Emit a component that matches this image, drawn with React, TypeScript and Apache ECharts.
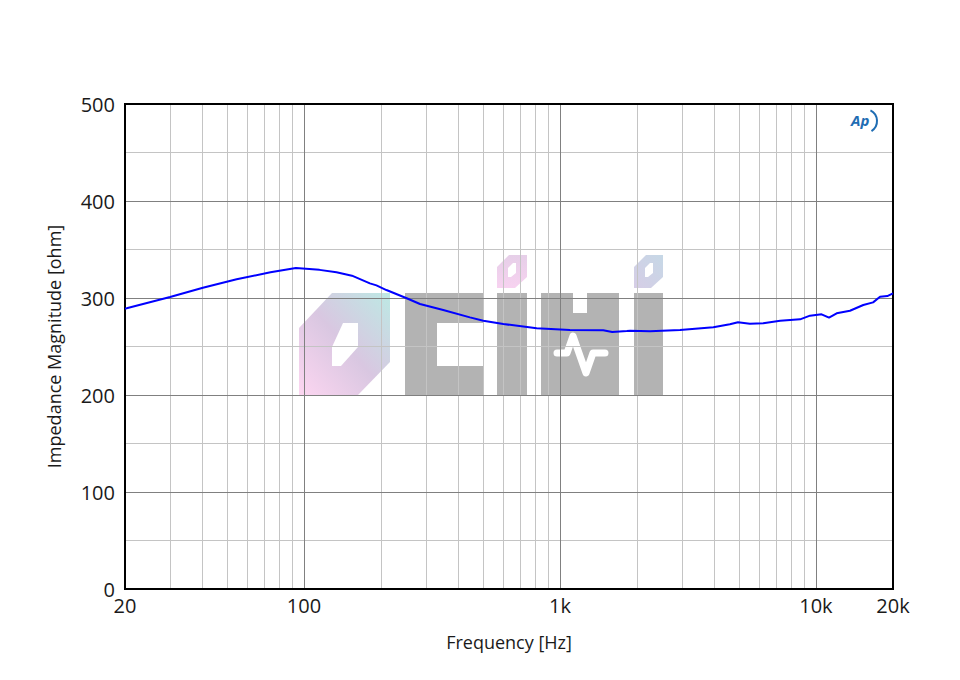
import React, { useEffect, useRef } from "react";
import * as echarts from "echarts";

const freqs = [20, 20.3, 30, 40.3, 54.6, 74, 93, 115, 134, 154, 181, 192, 210, 252, 284, 350, 445, 502, 601, 811, 1094, 1476, 1600, 1825, 1880, 2250, 2945, 3974, 4611, 4960, 5520, 6227, 7250, 8670, 9480, 10520, 11250, 12050, 13580, 15310, 16720, 17800, 19000, 20000];
const impedance = [289, 289.4, 301, 310.6, 319.3, 326.5, 331, 329, 326.5, 323, 315.1, 313, 308.2, 299.7, 293.8, 287.6, 280, 276.6, 273.2, 268.7, 267, 266.7, 265, 266, 266.3, 265.6, 267, 269.8, 272.9, 274.9, 273.5, 273.9, 276.6, 278, 281.8, 283.2, 279.7, 284.2, 286.9, 292.8, 295.5, 301.3, 302, 304.8];
const majorFreqs = [100, 1000, 10000];
const minorFreqs = [30, 40, 50, 60, 70, 80, 90, 200, 300, 400, 500, 600, 700, 800, 900, 2000, 3000, 4000, 5000, 6000, 7000, 8000, 9000];
const majorOhms = [100, 200, 300, 400];
const minorOhms = [50, 150, 250, 350, 450];
const xLabels: Record<number, string> = { 20: "20", 100: "100", 1000: "1k", 10000: "10k", 20000: "20k" };

const FONT = "Open Sans";
const TXT = "#1a1a1a";

export default function App() {
  const bgRef = useRef<HTMLDivElement>(null);
  const ref = useRef<HTMLDivElement>(null);
  useEffect(() => {
    if (!ref.current || !bgRef.current) return;
    const bg = echarts.init(bgRef.current, null, { renderer: "svg" });
    const chart = echarts.init(ref.current, null, { renderer: "svg" });
    const gray = "#b3b3b3";
    const hexGrad = new echarts.graphic.LinearGradient(0, 1, 1, 0, [
      { offset: 0, color: "#fdd6f1" },
      { offset: 0.5, color: "#d9c7e1" },
      { offset: 1, color: "#bde9e4" },
    ]);
    const dot1Grad = new echarts.graphic.LinearGradient(0, 0, 0, 1, [
      { offset: 0, color: "#e6cfe8" },
      { offset: 1, color: "#f7d2f0" },
    ]);
    const dot2Grad = new echarts.graphic.LinearGradient(1, 0, 0, 1, [
      { offset: 0, color: "#c6d8e6" },
      { offset: 1, color: "#d6cde6" },
    ]);
    const wmEls = [
      { type: "polygon", shape: { points: [[299, 328], [332, 293], [390, 293], [390, 362], [357, 396], [299, 396]] }, style: { fill: hexGrad } },
      { type: "polygon", shape: { points: [[332, 347], [343, 323], [358, 323], [358, 347], [341, 366], [332, 366]] }, style: { fill: "#fff" } },
      { type: "rect", shape: { x: 405, y: 293, width: 78, height: 103 }, style: { fill: gray } },
      { type: "rect", shape: { x: 437, y: 323, width: 46, height: 43 }, style: { fill: "#fff" } },
      { type: "rect", shape: { x: 497, y: 293, width: 30, height: 103 }, style: { fill: gray } },
      { type: "polygon", shape: { points: [[497, 267], [509, 255], [527, 255], [527, 277], [515, 288], [497, 288]] }, style: { fill: dot1Grad } },
      { type: "polygon", shape: { points: [[508, 268], [513, 263], [516, 263], [516, 273], [511, 277], [508, 277]] }, style: { fill: "#fff" } },
      { type: "rect", shape: { x: 541, y: 293, width: 78, height: 103 }, style: { fill: gray } },
      { type: "rect", shape: { x: 573, y: 293, width: 14, height: 20 }, style: { fill: "#fff" } },
      { type: "polyline", shape: { points: [[557, 353], [567, 353], [573, 336], [586, 373], [593, 353], [605, 353]] }, style: { stroke: "#fff", lineWidth: 7, lineCap: "round", lineJoin: "round", fill: "none" } },
      { type: "rect", shape: { x: 634, y: 293, width: 29, height: 103 }, style: { fill: gray } },
      { type: "polygon", shape: { points: [[634, 267], [646, 255], [663, 255], [663, 277], [651, 288], [634, 288]] }, style: { fill: dot2Grad } },
      { type: "polygon", shape: { points: [[645, 268], [650, 263], [653, 263], [653, 273], [648, 277], [645, 277]] }, style: { fill: "#fff" } },
    ].map((e) => ({ ...e, silent: true }));
    bg.setOption({
      animation: false,
      backgroundColor: "#ffffff",
      graphic: wmEls,
    });
    const major = { color: "#808080", width: 1, type: "solid" };
    const minor = { color: "#c4c4c4", width: 1, type: "solid" };
    chart.setOption({
      animation: false,
      backgroundColor: "transparent",
      grid: { left: 125, right: 67, top: 104, bottom: 91, show: true, borderColor: "#000", borderWidth: 2, z: 10 },
      xAxis: {
        type: "log",
        logBase: 10,
        min: 20,
        max: 20000,
        name: "Frequency [Hz]",
        nameLocation: "middle",
        nameGap: 44,
        nameTextStyle: { fontFamily: FONT, fontSize: 18, color: TXT },
        axisLine: { show: false },
        axisTick: { show: false },
        axisLabel: {
          fontFamily: FONT,
          fontSize: 20,
          color: TXT,
          margin: 6,
          showMinLabel: true,
          showMaxLabel: true,
          formatter: (v: number) => xLabels[Math.round(v)] ?? "",
        },
        splitLine: { show: false },
      },
      yAxis: {
        type: "value",
        min: 0,
        max: 500,
        interval: 100,
        name: "Impedance Magnitude [ohm]",
        nameLocation: "middle",
        nameGap: 62,
        nameTextStyle: { fontFamily: FONT, fontSize: 18, color: TXT },
        axisLine: { show: false },
        axisTick: { show: false },
        axisLabel: { fontFamily: FONT, fontSize: 20, color: TXT, margin: 10 },
        splitLine: { show: false },
      },
      graphic: [
        { type: "text", x: 851, y: 112, z: 50, style: { text: "Ap", fill: "#1f6db3", font: "italic bold 15px Open Sans" } },
        { type: "arc", x: 865, y: 121, z: 50, shape: { cx: 0, cy: 0, r: 12, startAngle: -1.1, endAngle: 1.0 }, style: { stroke: "#1f6db3", lineWidth: 2, fill: "none" } },
      ],
      series: [
        {
          type: "line",
          data: freqs.map((f, i) => [f, impedance[i]]),
          showSymbol: false,
          silent: true,
          z: 2,
          lineStyle: { opacity: 0 },
          markLine: {
            silent: true,
            symbol: "none",
            label: { show: false },
            data: [
              ...minorFreqs.map((v) => ({ xAxis: v, lineStyle: minor })),
              ...minorOhms.map((v) => ({ yAxis: v, lineStyle: minor })),
              ...majorFreqs.map((v) => ({ xAxis: v, lineStyle: major })),
              ...majorOhms.map((v) => ({ yAxis: v, lineStyle: major })),
            ],
          },
        },
        {
          type: "line",
          data: freqs.map((f, i) => [f, impedance[i]]),
          showSymbol: false,
          smooth: false,
          z: 30,
          lineStyle: { color: "#0000ff", width: 2 },
        },
      ],
    });
    return () => {
      chart.dispose();
      bg.dispose();
    };
  }, []);
  return (
    <div style={{ position: "absolute", left: 0, top: 0, width: 960, height: 680 }}>
      <div ref={bgRef} style={{ width: 960, height: 680, position: "absolute", left: 0, top: 0 }} />
      <div ref={ref} style={{ width: 960, height: 680, position: "absolute", left: 0, top: 0 }} />
    </div>
  );
}
